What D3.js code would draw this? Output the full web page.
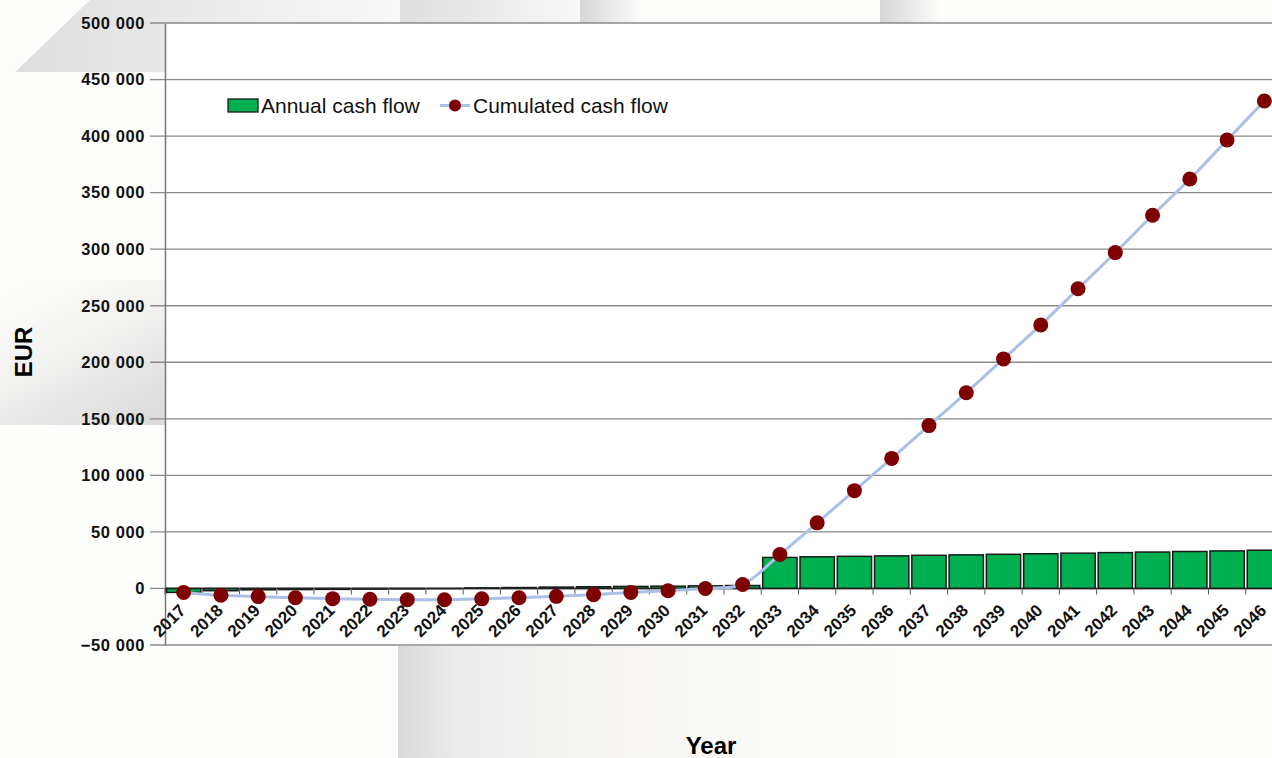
<!DOCTYPE html>
<html>
<head>
<meta charset="utf-8">
<script src="https://cdn.jsdelivr.net/npm/d3@7"></script>
<style>
  body { margin: 0; background: #fdfdfb; }
  svg { display: block; font-family: "Liberation Sans", Arial, sans-serif; }
</style>
</head>
<body>
<svg id="chart" width="1272" height="758"></svg>
<script>
// Chart data
var years = ["2017","2018","2019","2020","2021","2022","2023","2024","2025","2026","2027","2028","2029","2030","2031",
             "2032","2033","2034","2035","2036","2037","2038","2039","2040","2041","2042","2043","2044","2045","2046"];
var annualFlow = [-3500,-2000,-1200,-1000,-800,-600,-400,-200,500,800,1200,1500,1800,2000,2300,
                  2600,27400,28000,28400,28800,29300,29700,30200,30700,31200,31700,32200,32700,33200,33800];
var cumulFlow = [-3500,-6000,-7200,-8200,-9000,-9600,-9900,-10000,-9200,-8200,-7000,-5500,-3600,-2000,0,
                 3500,30000,58000,86500,115000,144000,173000,203000,233000,265000,297000,330000,362000,396500,431000];
var yTicks = [-50000,0,50000,100000,150000,200000,250000,300000,350000,400000,450000,500000];

var svg = d3.select("#chart");

// Background decoration (grey shading of the slide)
var defs = svg.append("defs");
function grad(id, x1, y1, x2, y2, stops) {
    var g = defs.append("linearGradient").attr("id", id)
        .attr("x1", x1).attr("y1", y1).attr("x2", x2).attr("y2", y2);
    stops.forEach(s => g.append("stop").attr("offset", s[0]).attr("stop-color", s[1]));
}
grad("gTop", 0, 0, 1, 0, [[0, "#dedede"], [0.5, "#ebebeb"], [1, "#f8f8f8"]]);
grad("gBand", 0, 0, 1, 0, [[0, "#d6d6d6"], [1, "#fbfbfa"]]);
grad("gLeft", 0.2, 0, 0.8, 1, [[0, "#fdfdfb"], [0.5, "#f0f0ef"], [1, "#dcdcdc"]]);
grad("gBottom", 0, 0, 1, 0, [[0, "#d9d9d9"], [0.12, "#ececec"], [0.45, "#f7f6f4"], [1, "#fdfdfb"]]);

svg.append("polygon").attr("points", "15,72 90,0 400,0 400,23 165,23 165,72").attr("fill", "url(#gTop)");
svg.append("rect").attr("x", 400).attr("y", 0).attr("width", 180).attr("height", 23).attr("fill", "url(#gTop)");
svg.append("rect").attr("x", 580).attr("y", 0).attr("width", 60).attr("height", 23).attr("fill", "url(#gBand)");
svg.append("rect").attr("x", 880).attr("y", 0).attr("width", 60).attr("height", 23).attr("fill", "url(#gBand)");
svg.append("rect").attr("x", 0).attr("y", 280).attr("width", 165).attr("height", 145).attr("fill", "url(#gLeft)");
svg.append("rect").attr("x", 398).attr("y", 646).attr("width", 500).attr("height", 112).attr("fill", "url(#gBottom)");

// Plot area
var m = { top: 23, left: 165, bottom: 645, right: 1283 };
var x = d3.scaleBand().domain(years).range([m.left, m.right]).paddingInner(0.08).paddingOuter(0.04);
var xc = d3.scaleBand().domain(years).range([m.left, m.right]);
var y = d3.scaleLinear().domain([-50000, 500000]).range([m.bottom, m.top]);

svg.append("rect").attr("x", m.left).attr("y", m.top)
    .attr("width", m.right - m.left).attr("height", m.bottom - m.top).attr("fill", "#ffffff");

// Gridlines
svg.append("g").selectAll("line").data(yTicks).enter().append("line")
    .attr("x1", m.left - 15).attr("x2", m.right)
    .attr("y1", d => y(d)).attr("y2", d => y(d))
    .attr("stroke", "#8a8a8a").attr("stroke-width", 1.3);

// Y axis
var yAxis = svg.append("g").attr("transform", `translate(${m.left},0)`)
    .call(d3.axisLeft(y).tickValues(yTicks).tickSize(0).tickPadding(20)
        .tickFormat(d => d3.format(",")(d).replace(/,/g, " ")));
yAxis.select(".domain").attr("stroke", "#777").attr("stroke-width", 1.5);
yAxis.selectAll("text").attr("font-size", 16.5).attr("font-weight", "bold").attr("fill", "#111")
    .attr("letter-spacing", 0.6).attr("font-family", "Liberation Sans, Arial, sans-serif");

// Bars
svg.append("g").selectAll("rect").data(years).enter().append("rect")
    .attr("x", d => x(d))
    .attr("width", x.bandwidth())
    .attr("y", (d, i) => y(Math.max(0, annualFlow[i])))
    .attr("height", (d, i) => Math.abs(y(annualFlow[i]) - y(0)))
    .attr("fill", "#00b050").attr("stroke", "#1a1a1a").attr("stroke-width", 1.5);

// Zero axis with category ticks
svg.append("line").attr("x1", m.left).attr("x2", m.right).attr("y1", y(0)).attr("y2", y(0))
    .attr("stroke", "#222").attr("stroke-width", 1.5);
svg.append("g").selectAll("line").data(years).enter().append("line")
    .attr("x1", d => xc(d)).attr("x2", d => xc(d))
    .attr("y1", y(0)).attr("y2", y(0) + 6)
    .attr("stroke", "#555").attr("stroke-width", 1);

// Cumulated line
var pts = years.map((d, i) => [xc(d) + xc.bandwidth() / 2, y(cumulFlow[i])]);
svg.append("path").datum(pts)
    .attr("d", d3.line().curve(d3.curveCatmullRom))
    .attr("fill", "none").attr("stroke", "#a9c1e6").attr("stroke-width", 3);
svg.append("g").selectAll("circle").data(pts).enter().append("circle")
    .attr("cx", d => d[0]).attr("cy", d => d[1]).attr("r", 7.5)
    .attr("fill", "#7f0000");

// Category labels (drawn over the dots)
svg.append("g").selectAll("text").data(years).enter().append("text")
    .attr("transform", d => `translate(${xc(d) + xc.bandwidth() / 2 + 3},${y(0) + 23}) rotate(-45)`)
    .attr("text-anchor", "end")
    .attr("font-size", 17).attr("font-weight", "bold").attr("fill", "#111")
    .text(d => d);

// Legend
var lg = svg.append("g").attr("font-size", 21).attr("fill", "#111");
lg.append("rect").attr("x", 228).attr("y", 99).attr("width", 30).attr("height", 13)
    .attr("fill", "#00b050").attr("stroke", "#1a1a1a").attr("stroke-width", 1.3);
lg.append("text").attr("x", 261).attr("y", 113).text("Annual cash flow");
lg.append("line").attr("x1", 440).attr("x2", 470).attr("y1", 105.5).attr("y2", 105.5)
    .attr("stroke", "#a9c1e6").attr("stroke-width", 3);
lg.append("circle").attr("cx", 455).attr("cy", 105.5).attr("r", 6).attr("fill", "#7f0000");
lg.append("text").attr("x", 473).attr("y", 113).text("Cumulated cash flow");

// Axis titles
svg.append("text").attr("transform", "translate(32,352) rotate(-90)")
    .attr("text-anchor", "middle").attr("font-size", 24).attr("font-weight", "bold").text("EUR");
svg.append("text").attr("x", 711).attr("y", 754)
    .attr("text-anchor", "middle").attr("font-size", 24).attr("font-weight", "bold").text("Year");
</script>
</body>
</html>
